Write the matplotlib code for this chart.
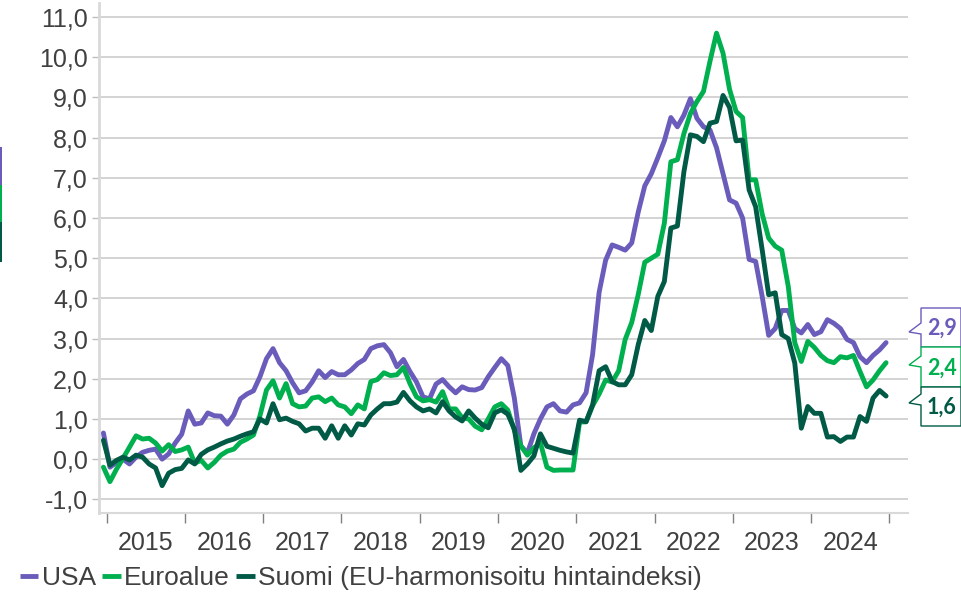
import matplotlib
matplotlib.use("Agg")
import matplotlib.pyplot as plt
from matplotlib.patches import Polygon, Rectangle
from matplotlib.lines import Line2D

# ---------------- data (monthly, Dec 2014 .. Dec 2024) ----------------
years = ["2015", "2016", "2017", "2018", "2019", "2020", "2021", "2022", "2023", "2024"]

usa = [0.65,
       -0.2, -0.08, 0.0, -0.12, 0.05, 0.17, 0.22, 0.25, 0.0, 0.13, 0.4, 0.62,
       1.2, 0.87, 0.9, 1.15, 1.08, 1.07, 0.87, 1.1, 1.5, 1.62, 1.7, 2.05,
       2.5, 2.75, 2.4, 2.2, 1.9, 1.65, 1.7, 1.92, 2.2, 2.03, 2.18, 2.1,
       2.1, 2.22, 2.38, 2.48, 2.75, 2.82, 2.85, 2.65, 2.3, 2.48, 2.18, 1.92,
       1.55, 1.5, 1.87, 1.98, 1.8, 1.65, 1.8, 1.73, 1.72, 1.78, 2.05, 2.28,
       2.5, 2.33, 1.52, 0.33, 0.15, 0.63, 1.0, 1.3, 1.38, 1.2, 1.17, 1.35,
       1.4, 1.65, 2.6, 4.15, 4.95, 5.33, 5.27, 5.2, 5.38, 6.15, 6.8, 7.1,
       7.5, 7.92, 8.5, 8.27, 8.56, 8.97, 8.48, 8.27, 8.19, 7.75, 7.1, 6.45,
       6.37, 6.0, 4.97, 4.92, 4.05, 3.08, 3.25, 3.7, 3.7, 3.25, 3.14, 3.35,
       3.1, 3.17, 3.47, 3.38, 3.25, 2.98, 2.9, 2.55, 2.4, 2.58, 2.72, 2.9]

euro = [-0.2,
        -0.56, -0.25, 0.02, 0.3, 0.58, 0.5, 0.52, 0.4, 0.2, 0.36, 0.19, 0.23,
        0.3, -0.1, -0.03, -0.22, -0.08, 0.1, 0.2, 0.25, 0.42, 0.5, 0.6, 1.08,
        1.72, 1.95, 1.52, 1.88, 1.38, 1.3, 1.32, 1.52, 1.55, 1.43, 1.52, 1.35,
        1.3, 1.13, 1.35, 1.25, 1.93, 1.98, 2.15, 2.08, 2.1, 2.28, 1.88, 1.55,
        1.45, 1.48, 1.42, 1.68, 1.25, 1.25, 1.03, 1.0, 0.82, 0.73, 1.0, 1.3,
        1.38, 1.22, 0.72, 0.33, 0.1, 0.28, 0.4, -0.2, -0.28, -0.27, -0.27, -0.27,
        0.92, 0.93, 1.33, 1.62, 1.97, 1.92, 2.2, 2.98, 3.4, 4.1, 4.9, 5.0,
        5.1, 5.87, 7.4, 7.45, 8.1, 8.6, 8.9, 9.15, 9.9, 10.6, 10.1, 9.2,
        8.65, 8.5, 6.95, 6.95, 6.1, 5.5, 5.3, 5.2, 4.3, 2.9, 2.43, 2.93,
        2.78, 2.58, 2.45, 2.4, 2.55, 2.52, 2.58, 2.18, 1.8, 1.97, 2.2, 2.4]

suomi = [0.47,
         -0.15, -0.03, 0.05, -0.02, 0.1, 0.05, -0.12, -0.22, -0.66, -0.35, -0.26, -0.23,
         -0.02, -0.12, 0.12, 0.23, 0.3, 0.38, 0.45, 0.5, 0.57, 0.63, 0.68, 1.0,
         0.9, 1.38, 0.98, 1.02, 0.94, 0.88, 0.7, 0.77, 0.77, 0.52, 0.83, 0.52,
         0.83, 0.6, 0.88, 0.85, 1.1, 1.25, 1.38, 1.38, 1.42, 1.66, 1.45, 1.3,
         1.2, 1.25, 1.15, 1.43, 1.2, 1.05, 0.95, 1.2, 1.02, 0.87, 0.78, 1.15,
         1.23, 1.12, 0.75, -0.28, -0.12, 0.08, 0.63, 0.32, 0.27, 0.22, 0.18, 0.15,
         0.97, 0.93, 1.35, 2.2, 2.3, 1.93, 1.85, 1.85, 2.1, 2.85, 3.45, 3.2,
         4.05, 4.42, 5.75, 5.8, 7.15, 8.07, 8.03, 7.9, 8.36, 8.4, 9.05, 8.75,
         7.92, 7.94, 6.7, 6.28, 5.21, 4.09, 4.14, 3.1, 3.0, 2.39, 0.77, 1.31,
         1.14, 1.14, 0.55, 0.56, 0.44, 0.55, 0.55, 1.06, 0.94, 1.52, 1.71, 1.57]

names = ["USA", "Euroalue", "Suomi (EU-harmonisoitu hintaindeksi)"]
colors = ["#6a5cba", "#00b04f", "#005a45"]
yticks = [-1, 0, 1, 2, 3, 4, 5, 6, 7, 8, 9, 10, 11]

# ---------------- figure ----------------
W, H = 962, 596
plt.rcParams['font.family'] = ['Liberation Sans', 'DejaVu Sans']
fig = plt.figure(figsize=(W / 100, H / 100), dpi=100)
ax = fig.add_axes([99 / W, (H - 513) / H, (908 - 99) / W, (513 - 3) / H])

txt = "#404040"
grid_c = "#d0d0d0"

x = list(range(len(usa)))
for series, c in zip([usa, euro, suomi], colors):
    ax.plot(x, series, color=c, lw=3.5, solid_joinstyle="round",
            solid_capstyle="round", zorder=3)

ax.set_xlim(-0.68, 123.36)
ax.set_ylim(-1.34, 11.35)

ax.set_yticks(yticks)
ax.set_yticklabels([f"{v:.1f}".replace(".", ",") for v in yticks])
ax.yaxis.grid(True, color=grid_c, lw=1.3)
ax.set_axisbelow(True)

# year boundary ticks and centered year labels
ax.set_xticks([0.5 + 12 * k for k in range(len(years) + 1)])
ax.set_xticklabels([""] * (len(years) + 1))
ax.set_xticks([6.5 + 12 * k for k in range(len(years))], minor=True)
ax.set_xticklabels(years, minor=True)
ax.tick_params(axis="x", which="major", length=7, width=1, color="#808080",
               direction="out")
ax.tick_params(axis="x", which="minor", length=0, pad=13, labelsize=18,
               labelcolor=txt)
ax.tick_params(axis="y", length=5, width=1, color="#bfbfbf", pad=3,
               labelsize=18, labelcolor=txt)

for s in ["top", "right"]:
    ax.spines[s].set_visible(False)
ax.spines["left"].set_color("#d9d9d9")
ax.spines["left"].set_linewidth(2)
ax.spines["bottom"].set_color("#d9d9d9")
ax.spines["bottom"].set_linewidth(1.5)

# legend
handles = [Line2D([0], [0], color=c, lw=3.5, solid_capstyle="butt") for c in colors]
fig.legend(handles, names, loc="center left", bbox_to_anchor=(20 / W, (H - 578) / H),
           ncol=3, frameon=False, fontsize=19, handlelength=0.7,
           handletextpad=0.12, columnspacing=0.25, borderpad=0, borderaxespad=0,
           labelcolor=txt)


def fx(px):
    return px / W


def fy(py):
    return 1 - py / H


# callout labels at the right end
ends = [usa[-1], euro[-1], suomi[-1]]
boxes = [(308, 347, 332), (347, 387, 365), (387, 426, 403)]
for val, c, (top, bot, tip) in zip(ends, colors, boxes):
    xl, xr = 921, 961
    pts = [(xl, top), (xr, top), (xr, bot), (xl, bot), (xl, tip + 2),
           (909, tip), (xl, tip - 9)]
    poly = Polygon([(fx(a), fy(b)) for a, b in pts], closed=True,
                   transform=fig.transFigure, facecolor="white",
                   edgecolor=c, lw=1.0, zorder=5)
    fig.add_artist(poly)
    t = fig.text(fx(942), fy((top + bot) / 2 + 1), f"{val:.1f}".replace(".", ","),
                 color=c, fontsize=15.5, fontweight="bold", ha="center",
                 va="center", family=["Lato", "DejaVu Sans"])
    t.set_zorder(6)

# thin colour strip at the left edge
for (t0, b0), c in zip([(147, 185), (185, 222), (222, 262)], colors):
    fig.add_artist(Rectangle((0, fy(b0)), fx(2), (b0 - t0) / H,
                             transform=fig.transFigure, color=c, lw=0))

fig.savefig("out.png", dpi=100)
